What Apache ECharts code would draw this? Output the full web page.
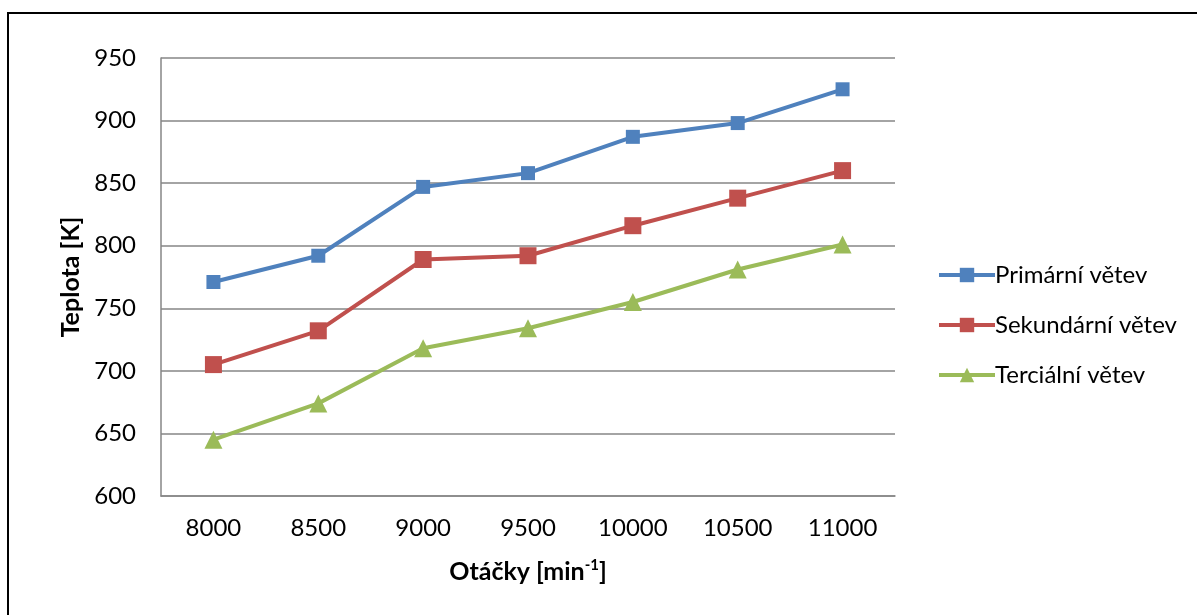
<!DOCTYPE html>
<html>
<head>
<meta charset="utf-8">
<script src="https://cdn.jsdelivr.net/npm/echarts@6/dist/echarts.min.js"></script>
<style>html,body{margin:0;padding:0;background:#fff;}#c{width:1197px;height:615px;}</style>
</head>
<body>
<div id="c"></div>
<script>
const categories = ['8000','8500','9000','9500','10000','10500','11000'];
const primarni = [771, 792, 847, 858, 887, 898, 925];
const sekundarni = [705, 732, 789, 792, 816, 838, 860];
const tercialni = [645, 674, 718, 734, 755, 781, 801];
const seriesNames = ['Primární větev', 'Sekundární větev', 'Terciální větev'];
const colors = ['#4F81BD', '#C0504D', '#9BBB59'];

const font = 'Lato, "Open Sans", "Noto Sans", sans-serif';
const chart = echarts.init(document.getElementById('c'), null, {renderer: 'canvas'});
function mk(name, data, color, symbol, size) {
  return {
    name: name, type: 'line', data: data, symbol: symbol, symbolSize: size,
    lineStyle: {color: color, width: 4}, itemStyle: {color: color},
    emphasis: {disabled: true}, animation: false
  };
}
chart.setOption({
  animation: false,
  graphic: [{type: 'rect', shape: {x: 8, y: 13, width: 1200, height: 620},
    style: {fill: 'none', stroke: '#000', lineWidth: 2}}],
  grid: {left: 161, top: 58, width: 734, height: 438, show: false},
  legend: {
    orient: 'vertical', left: 932, top: 258, itemGap: 26,
    itemWidth: 56, itemHeight: 18,
    textStyle: {fontFamily: font, fontSize: 24, color: '#000', padding: [0,0,0,-5]},
    data: seriesNames.map((n, i) => ({name: n, lineStyle: {width: 4, color: colors[i]}}))
  },
  xAxis: {
    type: 'category', data: categories, boundaryGap: true,
    axisLine: {show: true, lineStyle: {color: '#868686', width: 1.5}},
    axisTick: {show: false},
    axisLabel: {fontFamily: font, fontSize: 24, color: '#000', margin: 20},
    name: '{a|Otáčky [min}{s|-1}{a|]}', nameLocation: 'middle', nameGap: 62,
    nameTextStyle: {rich: {
      a: {fontFamily: font, fontSize: 25, fontWeight: 'bold', color: '#000'},
      s: {fontFamily: font, fontSize: 15, fontWeight: 'bold', color: '#000', verticalAlign: 'top', padding: [0,0,12,0]}
    }}
  },
  yAxis: {
    type: 'value', min: 600, max: 950, interval: 50,
    axisLine: {show: true, lineStyle: {color: '#868686', width: 1.5}},
    axisTick: {show: false},
    splitLine: {lineStyle: {color: '#868686', width: 1.5}},
    axisLabel: {fontFamily: font, fontSize: 24, color: '#000', margin: 25},
    name: 'Teplota [K]', nameLocation: 'middle', nameGap: 75, nameRotate: 90,
    nameTextStyle: {fontFamily: font, fontSize: 25, fontWeight: 'bold', color: '#000'}
  },
  series: [
    mk(seriesNames[0], primarni, colors[0], 'rect', 14),
    mk(seriesNames[1], sekundarni, colors[1], 'rect', 17),
    mk(seriesNames[2], tercialni, colors[2], 'triangle', 18)
  ]
});
</script>
</body>
</html>
